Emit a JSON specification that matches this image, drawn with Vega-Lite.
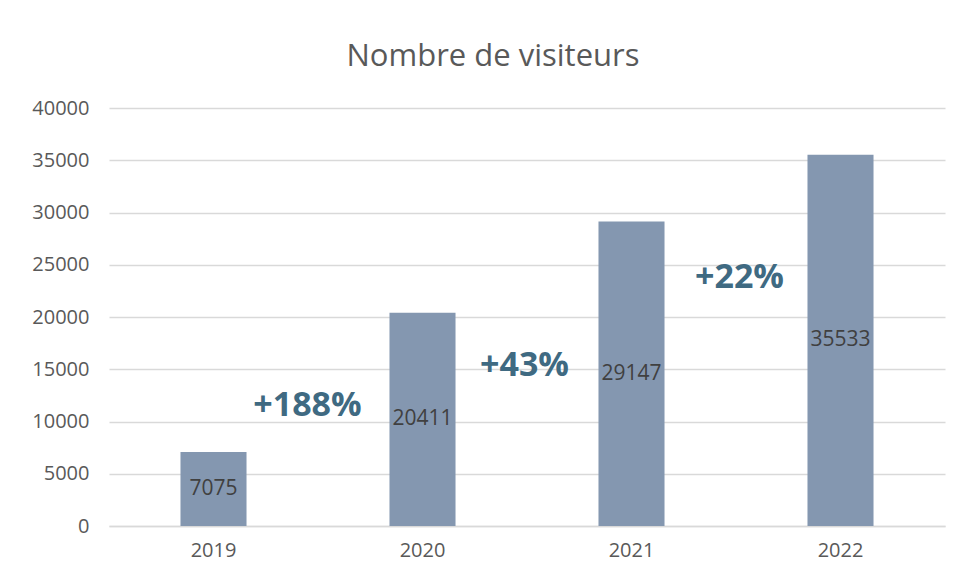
{
  "$schema": "https://vega.github.io/schema/vega-lite/v6.json",
  "width": 836,
  "height": 418,
  "autosize": "none",
  "padding": {"left": 109, "top": 108, "right": 19, "bottom": 55},
  "background": "white",
  "config": {"view": {"stroke": null}, "font": "Open Sans"},
  "title": {"text": "Nombre de visiteurs", "fontSize": 31, "font": "Open Sans", "fontWeight": "normal", "color": "#595959", "anchor": "middle", "dx": -34, "offset": 25},
  "datasets": {
    "bars": [
      {"year": "2019", "visitors": 7075},
      {"year": "2020", "visitors": 20411},
      {"year": "2021", "visitors": 29147},
      {"year": "2022", "visitors": 35533}
    ],
    "growth": [
      {"year": "2019", "pos": 11500, "label": "+188%"},
      {"year": "2020", "pos": 15300, "label": "+43%"},
      {"year": "2021", "pos": 23700, "label": "+22%"}
    ]
  },
  "layer": [
    {
      "data": {"name": "bars"},
      "mark": {"type": "bar", "color": "#8497b0"},
      "encoding": {
        "x": {"field": "year", "type": "nominal", "scale": {"paddingInner": 0.684, "paddingOuter": 0.342},
          "axis": {"title": null, "labelAngle": 0, "labelFontSize": 20, "labelColor": "#595959", "labelPadding": 14, "ticks": false, "domainColor": "#d9d9d9", "domainWidth": 1.5}},
        "y": {"field": "visitors", "type": "quantitative", "scale": {"domain": [0, 40000]},
          "axis": {"title": null, "values": [0,5000,10000,15000,20000,25000,30000,35000,40000], "format": "d", "labelFontSize": 20, "labelColor": "#595959", "labelPadding": 20, "ticks": false, "domain": false, "gridColor": "#d9d9d9", "gridWidth": 1.5}}
      }
    },
    {
      "data": {"name": "bars"},
      "transform": [{"calculate": "datum.visitors / 2", "as": "mid"}],
      "mark": {"type": "text", "fontSize": 21, "color": "#404040", "baseline": "middle"},
      "encoding": {
        "x": {"field": "year", "type": "nominal"},
        "y": {"field": "mid", "type": "quantitative"},
        "text": {"field": "visitors", "type": "nominal"}
      }
    },
    {
      "data": {"name": "growth"},
      "transform": [{"filter": "datum.year == '2019'"}],
      "mark": {"type": "text", "fontSize": 34, "fontWeight": "bold", "font": "Open Sans", "color": "#3f6a82", "baseline": "middle", "dx": 94},
      "encoding": {
        "x": {"field": "year", "type": "nominal"},
        "y": {"field": "pos", "type": "quantitative"},
        "text": {"field": "label", "type": "nominal"}
      }
    },
    {
      "data": {"name": "growth"},
      "transform": [{"filter": "datum.year == '2020'"}],
      "mark": {"type": "text", "fontSize": 34, "fontWeight": "bold", "font": "Open Sans", "color": "#3f6a82", "baseline": "middle", "dx": 102},
      "encoding": {
        "x": {"field": "year", "type": "nominal"},
        "y": {"field": "pos", "type": "quantitative"},
        "text": {"field": "label", "type": "nominal"}
      }
    },
    {
      "data": {"name": "growth"},
      "transform": [{"filter": "datum.year == '2021'"}],
      "mark": {"type": "text", "fontSize": 34, "fontWeight": "bold", "font": "Open Sans", "color": "#3f6a82", "baseline": "middle", "dx": 108},
      "encoding": {
        "x": {"field": "year", "type": "nominal"},
        "y": {"field": "pos", "type": "quantitative"},
        "text": {"field": "label", "type": "nominal"}
      }
    }
  ]
}
